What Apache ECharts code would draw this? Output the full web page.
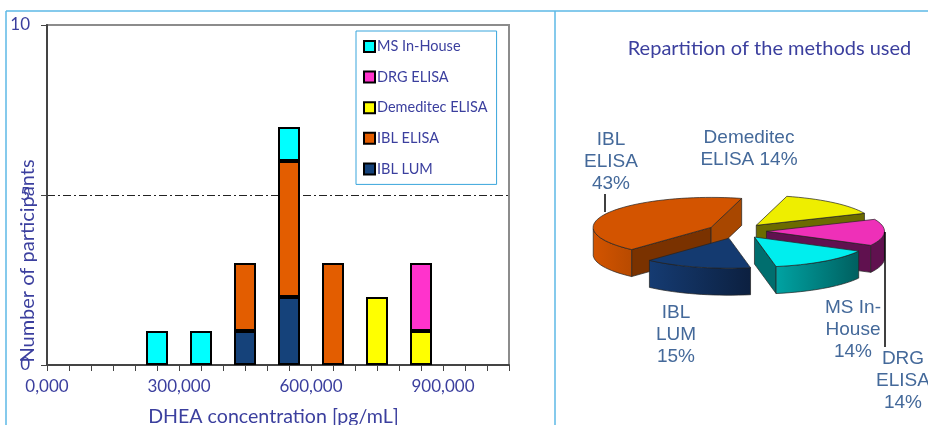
<!DOCTYPE html>
<html>
<head>
<meta charset="utf-8">
<style>
  html, body { margin: 0; padding: 0; background: #fff; overflow: hidden; }
  #chart { width: 928px; height: 425px; }
</style>
<script src="https://cdn.jsdelivr.net/npm/echarts@6/dist/echarts.min.js"></script>
</head>
<body>
<div id="chart"></div>
<script>
// histogram data, one value per 100 pg/mL bin
const tickValues = [0, 50, 100, 150, 200, 250, 300, 350, 400, 450, 500, 550, 600, 650, 700, 750, 800, 850, 900, 950, 1000, 1050]
const binCenters = [250, 350, 450, 550, 650, 750, 850]
const iblLum     = [0, 0, 1, 2, 0, 0, 0]
const iblElisa   = [0, 0, 2, 4, 3, 0, 0]
const demeditec  = [0, 0, 0, 0, 0, 2, 1]
const drgElisa   = [0, 0, 0, 0, 0, 0, 2]
const msInHouse  = [1, 1, 0, 1, 0, 0, 0]
const legendOrder = ['MS In-House', 'DRG ELISA', 'Demeditec ELISA', 'IBL ELISA', 'IBL LUM']

// pie data, clockwise from the start angle
const pieNames   = ['Demeditec ELISA', 'DRG ELISA', 'MS In-House', 'IBL LUM', 'IBL ELISA']
const pieShares  = [14.3, 14.3, 14.3, 14.7, 42.4]   // slice sizes as drawn
const pieLabels  = [14, 14, 14, 15, 43]             // percentages as printed
const pieDrawOrder = [4, 0, 1, 3, 2]

const BLUE_TEXT = '#3b3f9e'
const PIE_TEXT  = '#44699a'
const FRAME     = '#5cb9e6'
const FONT      = 'Lato, sans-serif'

const PIE = { cx: 737, cy: 231, rx: 118, ry: 30, depth: 27, start: 75, explode: 0.25 }
const PIE_COLORS = [
  { top: '#eeee00', cut: '#6b6b00', rim: ['#8a8a00', '#6b6b00'] },
  { top: '#ee30b8', cut: '#60114f', rim: ['#60114f', '#60114f'] },
  { top: '#00eeee', cut: '#006e6e', rim: ['#00a3a3', '#005f5f'] },
  { top: '#143a70', cut: '#0c2345', rim: ['#153b72', '#0c2040'] },
  { top: '#d35400', cut: '#7a3200', rim: ['#d35400', '#b84a00'] },
]
const ORANGE_BACK_CUT = '#a84700'

function sliceAngles(i) {
  let a = PIE.start
  for (let k = 0; k < i; k++) a -= pieShares[k] * 3.6
  return [a, a - pieShares[i] * 3.6]
}

function ellipsePoint(apex, deg) {
  const r = deg * Math.PI / 180
  return [apex[0] + PIE.rx * Math.cos(r), apex[1] - PIE.ry * Math.sin(r)]
}

function quad(p, q, fill) {
  return {
    type: 'polygon',
    shape: { points: [p, q, [q[0], q[1] + PIE.depth], [p[0], p[1] + PIE.depth]] },
    style: { fill, stroke: '#222', lineWidth: 0.7 },
  }
}

function renderSlice(params, api) {
  const i = api.value(0)
  const [a0, a1] = sliceAngles(i)
  const mid = (a0 + a1) / 2 * Math.PI / 180
  const apex = [
    PIE.cx + PIE.explode * PIE.rx * Math.cos(mid),
    PIE.cy - PIE.explode * PIE.ry * Math.sin(mid),
  ]
  const col = PIE_COLORS[i]
  const arc = []
  for (let a = a0; a >= a1; a -= 3) arc.push(ellipsePoint(apex, a))
  arc.push(ellipsePoint(apex, a1))

  const children = []
  // cut faces, kept only when the wedge body lies above the edge on screen
  const midPt = ellipsePoint(apex, (a0 + a1) / 2)
  const edges = [arc[0], arc[arc.length - 1]]
  edges.forEach((e, k) => {
    const t = (midPt[0] - apex[0]) / (e[0] - apex[0])
    const yOnEdge = apex[1] + t * (e[1] - apex[1])
    if (midPt[1] < yOnEdge) {
      const fill = i === 4 && k === 1 ? ORANGE_BACK_CUT : col.cut
      children.push(quad(apex, e, fill))
    }
  })
  // outer rim, front half only
  const front = arc.filter(p => p[1] >= apex[1])
  if (front.length > 1) {
    const down = front.map(p => [p[0], p[1] + PIE.depth]).reverse()
    children.push({
      type: 'polygon',
      shape: { points: front.concat(down) },
      style: {
        fill: new echarts.graphic.LinearGradient(0, 0, 1, 0, [
          { offset: 0, color: col.rim[0] },
          { offset: 1, color: col.rim[1] },
        ]),
        stroke: '#222', lineWidth: 0.7,
      },
    })
  }
  children.push({
    type: 'polygon',
    shape: { points: [apex].concat(arc) },
    style: { fill: col.top, stroke: '#222', lineWidth: 0.7 },
  })
  return { type: 'group', children }
}

// stacking needs a category axis, so every tick position gets a slot
function barSeries(name, values, color) {
  return {
    name, type: 'bar', stack: 'total', barWidth: 22,
    data: tickValues.map(t => {
      const i = binCenters.indexOf(t)
      return i >= 0 && values[i] > 0 ? values[i] : null
    }),
    itemStyle: { color, borderColor: '#000', borderWidth: 2 },
    z: 3,
  }
}

function textEl(text, x, y, fontSize, fill, extra) {
  return Object.assign({
    type: 'text', x, y,
    style: { text, fontSize, fontFamily: FONT, fill, align: 'center', verticalAlign: 'middle' },
  }, extra || {})
}

function pieLabel(text, x, y) {
  return {
    type: 'text', x, y,
    style: {
      text, fontSize: 19, lineHeight: 22, fontFamily: 'Liberation Sans, Arial, sans-serif',
      fill: PIE_TEXT, align: 'center', verticalAlign: 'middle',
    },
  }
}

function frameLine(x1, y1, x2, y2) {
  return { type: 'line', shape: { x1, y1, x2, y2 }, style: { stroke: FRAME, lineWidth: 1.5 } }
}

function leader(x1, y1, x2, y2) {
  return { type: 'line', shape: { x1, y1, x2, y2 }, style: { stroke: '#000', lineWidth: 1.5 }, z: 5 }
}

const chart = echarts.init(document.getElementById('chart'), null, { renderer: 'canvas' })

chart.setOption({
  animation: false,
  backgroundColor: '#fff',
  textStyle: { fontFamily: FONT },
  grid: {
    left: 47, top: 25, width: 462, height: 340,
    show: true, borderColor: '#8c8c8c', borderWidth: 2, backgroundColor: 'transparent',
  },
  legend: {
    data: legendOrder,
    orient: 'vertical', left: 356, top: 31,
    padding: [8, 9, 8, 7],
    itemWidth: 11, itemHeight: 11, itemGap: 15.6,
    icon: 'rect',
    backgroundColor: '#fff',
    borderColor: '#39a5dc', borderWidth: 1, borderRadius: 0,
    textStyle: { color: BLUE_TEXT, fontSize: 14.5, fontFamily: FONT, padding: [0, 0, 0, -3] },
    itemStyle: { borderColor: '#000', borderWidth: 2 },
    z: 6,
  },
  xAxis: {
    type: 'category', data: tickValues, boundaryGap: false,
    axisLine: { onZero: false, lineStyle: { color: '#444', width: 2 } },
    axisTick: { show: true, interval: 0, length: 6, lineStyle: { color: '#444', width: 1 } },
    axisLabel: {
      color: BLUE_TEXT, fontSize: 17, margin: 13, interval: 5,
      formatter: v => Number(v).toFixed(3).replace('.', ','),
    },
    splitLine: { show: false },
  },
  yAxis: {
    type: 'value', min: 0, max: 10, interval: 5,
    axisLine: { show: true, lineStyle: { color: '#444', width: 2 } },
    axisTick: { show: true, length: 6, lineStyle: { color: '#444', width: 1 } },
    axisLabel: { color: BLUE_TEXT, fontSize: 17, margin: 17 },
    splitLine: {
      show: true, showMinLine: false, showMaxLine: false,
      lineStyle: { color: '#222', width: 1, type: [8, 3, 2, 3] },
    },
  },
  series: [
    barSeries('IBL LUM', iblLum, '#15427a'),
    barSeries('IBL ELISA', iblElisa, '#e35d00'),
    barSeries('Demeditec ELISA', demeditec, '#ffff00'),
    barSeries('DRG ELISA', drgElisa, '#ff33cc'),
    barSeries('MS In-House', msInHouse, '#00ffff'),
    {
      type: 'custom', coordinateSystem: 'none', silent: true, z: 4,
      data: pieDrawOrder.map(i => [i]),
      renderItem: renderSlice,
    },
  ],
  graphic: { elements: [
    frameLine(6, 11, 928, 11),
    frameLine(6, 11, 6, 425),
    frameLine(555, 11, 555, 425),
    textEl('Number of participants', 28, 261, 20, BLUE_TEXT, { rotation: Math.PI / 2 }),
    textEl('DHEA concentration [pg/mL]', 273.5, 417, 19.6, BLUE_TEXT),
    textEl('Repartition of the methods used', 769.5, 49, 20, BLUE_TEXT),
    leader(605, 194, 605, 212),
    leader(885, 232, 885, 347),
    pieLabel('IBL\nELISA\n' + pieLabels[4] + '%', 611, 162),
    pieLabel('Demeditec\nELISA ' + pieLabels[0] + '%', 749, 149),
    pieLabel('IBL\nLUM\n' + pieLabels[3] + '%', 676, 335),
    pieLabel('MS In-\nHouse\n' + pieLabels[2] + '%', 853, 330),
    pieLabel('DRG\nELISA\n' + pieLabels[1] + '%', 903, 381),
  ] },
})
</script>
</body>
</html>
